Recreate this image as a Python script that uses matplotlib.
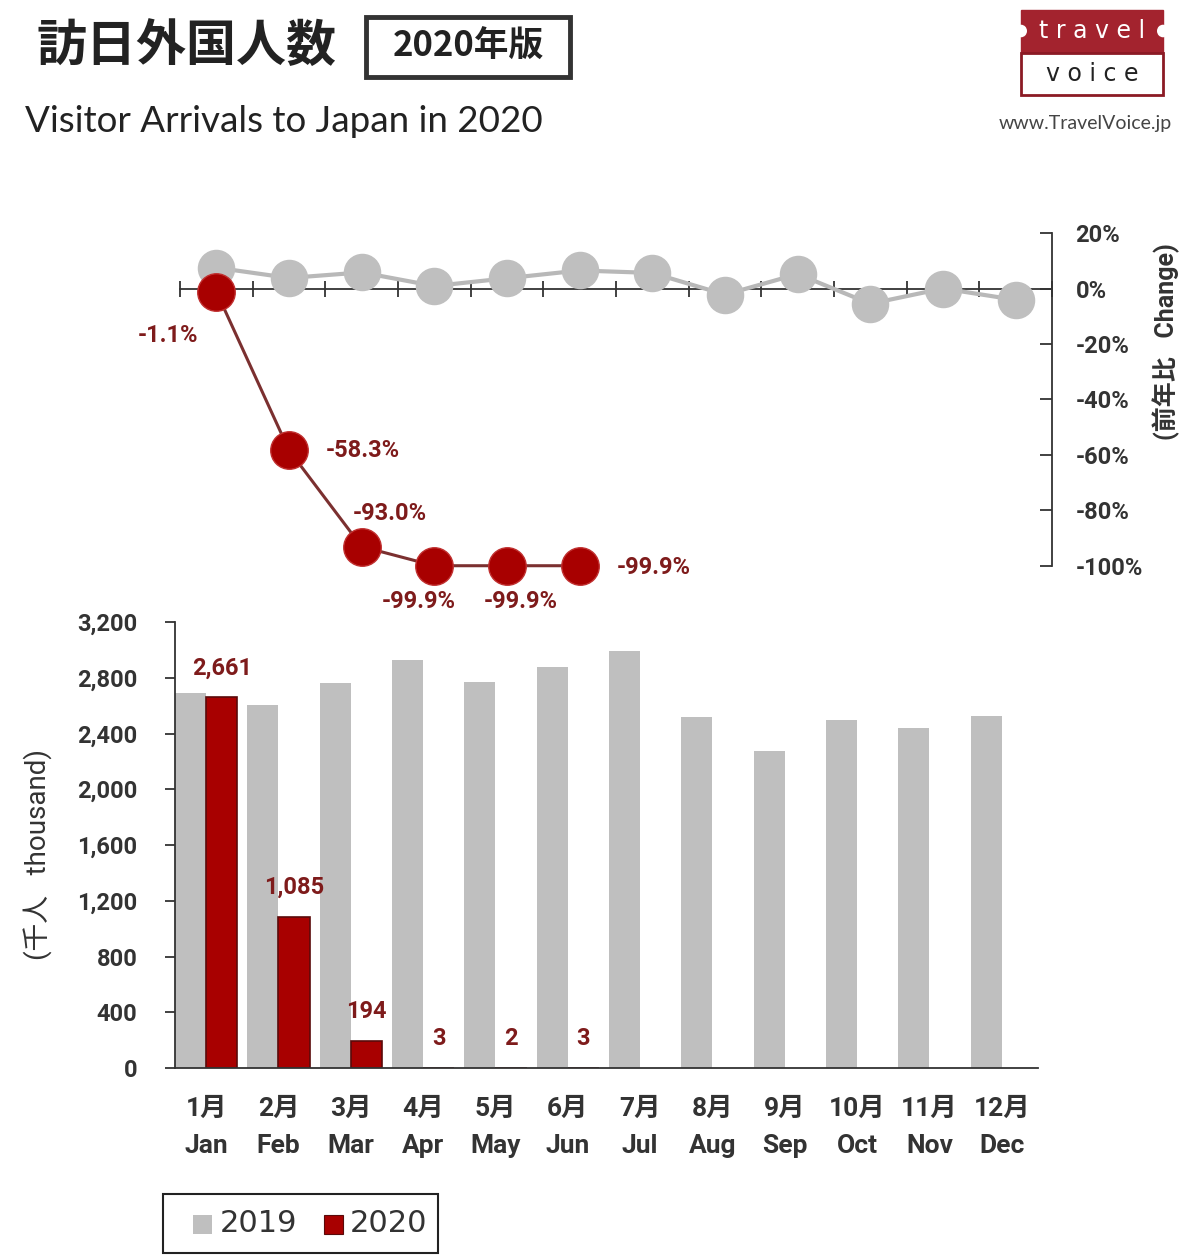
"""Visitor arrivals to Japan 2020: monthly bars with YoY change line above."""

import matplotlib
matplotlib.use("Agg")
import matplotlib.pyplot as plt
import numpy as np
from matplotlib.patches import Rectangle, Circle

plt.rcParams["font.family"] = ["Roboto", "Noto Sans CJK JP", "DejaVu Sans"]

months_jp = ["1月", "2月", "3月", "4月", "5月", "6月", "7月", "8月", "9月", "10月", "11月", "12月"]
months_en = ["Jan", "Feb", "Mar", "Apr", "May", "Jun", "Jul", "Aug", "Sep", "Oct", "Nov", "Dec"]

# thousand visitors
arrivals_2019 = [2689, 2604, 2760, 2927, 2773, 2880, 2991, 2520, 2273, 2497, 2441, 2527]
arrivals_2020 = [2661, 1085, 194, 3, 2, 3]
labels_2020 = ["2,661", "1,085", "194", "3", "2", "3"]

# year-on-year change, %
change_2019 = [7.5, 3.8, 5.8, 0.9, 3.7, 6.5, 5.6, -2.2, 5.2, -5.5, 0.0, -4.1]
change_2020 = [-1.1, -58.3, -93.0, -99.9, -99.9, -99.9]
change_labels = ["-1.1%", "-58.3%", "-93.0%", "-99.9%", "-99.9%", "-99.9%"]
# label offsets in pixels (dx, dy) from each red point
change_offsets = [(-48, -44), (74, 0), (28, 33), (-16, -36), (14, -36), (74, -2)]

GRAY = "#BFBFBF"
RED = "#A80000"
DARK_RED = "#7E1B1B"
AXIS = "#333333"
TXT = "#333333"

W, H = 1200, 1258
fig = plt.figure(figsize=(W / 100, H / 100), dpi=100)


def fx(px):
    return px / W


def fy(py):
    return 1 - py / H


# ---- header ----
fig.text(fx(37), fy(46), "訪日外国人数", fontsize=36, fontweight="bold",
         family=["Noto Sans CJK JP"], color="#222222", va="center", ha="left")
fig.patches.append(Rectangle((fx(366), fy(77)), fx(570 - 366), (77 - 17) / H,
                             transform=fig.transFigure, fill=False,
                             edgecolor="#333333", linewidth=3.5))
fig.text(fx(468), fy(46), "2020年版", fontsize=25, fontweight="bold",
         family=["Noto Sans CJK JP"], color="#222222", va="center", ha="center")
fig.text(fx(25), fy(121), "Visitor Arrivals to Japan in 2020", fontsize=26.5,
         color="#222222", va="center", ha="left", family=["Lato", "DejaVu Sans"])

# logo
fig.patches.append(Rectangle((fx(1021), fy(53)), fx(1163 - 1021), (53 - 10) / H,
                             transform=fig.transFigure, facecolor="#A3232E",
                             edgecolor="#A3232E", linewidth=1))
fig.patches.append(Rectangle((fx(1021), fy(95)), fx(1163 - 1021), (95 - 53) / H,
                             transform=fig.transFigure, facecolor="white",
                             edgecolor="#8B1A24", linewidth=2))
for cx in (1021, 1163):
    fig.patches.append(Circle((fx(cx), fy(31)), 6 / W, transform=fig.transFigure,
                              facecolor="white", edgecolor="none"))
fig.text(fx(1092), fy(31), "t r a v e l", fontsize=17, color="white",
         va="center", ha="center", family=["DejaVu Sans"])
fig.text(fx(1092), fy(74), "v o i c e", fontsize=17, color="#222222",
         va="center", ha="center", family=["DejaVu Sans"])
fig.text(fx(1085), fy(123), "www.TravelVoice.jp", fontsize=14, color="#444444",
         va="center", ha="center", family=["Lato", "DejaVu Sans"])

# ---- change line chart ----
ax1 = fig.add_axes([fx(180), fy(566), fx(1052 - 180), (566 - 233) / H])
x = np.arange(12)
ax1.plot(x, change_2019, color="#B8B8B8", linewidth=3, marker="o",
         markersize=26, markerfacecolor=GRAY, markeredgecolor=GRAY,
         clip_on=False, zorder=3)
x20 = np.arange(len(change_2020))
ax1.plot(x20, change_2020, color="#7B3030", linewidth=2.2, marker="o",
         markersize=27, markerfacecolor=RED, markeredgecolor="#C03030",
         markeredgewidth=1, clip_on=False, zorder=4)
for xi, yi, lab, (dx, dy) in zip(x20, change_2020, change_labels, change_offsets):
    ax1.annotate(lab, (xi, yi), xytext=(dx, dy), textcoords="offset pixels",
                 ha="center", va="center", fontsize=17, fontweight="bold",
                 color=DARK_RED, annotation_clip=False)

ax1.set_xlim(-0.5, 11.5)
ax1.set_ylim(-100, 20)
ax1.set_facecolor("none")
for side in ("left", "top"):
    ax1.spines[side].set_visible(False)
ax1.spines["bottom"].set_position(("data", 0))
ax1.spines["bottom"].set_color(AXIS)
ax1.spines["right"].set_color(AXIS)
ax1.spines["bottom"].set_linewidth(1.3)
ax1.spines["right"].set_linewidth(1.3)
ax1.set_xticks(np.arange(-0.5, 12, 1))
ax1.tick_params(axis="x", direction="inout", length=11, width=1.3,
                color=AXIS, labelbottom=False)
ax1.yaxis.tick_right()
ax1.set_yticks(np.arange(-100, 21, 20))
ax1.set_yticklabels([f"{v}%" for v in np.arange(-100, 21, 20)])
ax1.tick_params(axis="y", direction="in", length=9, width=1.3, color=AXIS,
                pad=17, labelsize=17, labelcolor=TXT)
for t in ax1.get_yticklabels():
    t.set_fontweight("bold")
fig.text(fx(1166), fy(342), "(前年比   Change)", rotation=90, fontsize=18,
         fontweight="bold", color=TXT, va="center", ha="center")

# ---- arrivals bar chart ----
ax2 = fig.add_axes([fx(175), fy(1068), fx(1038 - 175), (1068 - 622) / H])
w = 0.43
ax2.bar(x - w / 2, arrivals_2019, w, color=GRAY, edgecolor="none")
ax2.bar(x20 + w / 2, arrivals_2020, w, color=RED, edgecolor="#5A0A0A",
        linewidth=1.2)
for xi, v, lab in zip(x20, arrivals_2020, labels_2020):
    ax2.annotate(lab, (xi + w / 2, v), xytext=(0, 29), textcoords="offset pixels",
                 ha="center", va="center", fontsize=17, fontweight="bold",
                 color=DARK_RED)

ax2.set_xlim(-0.43, 11.5)
ax2.set_ylim(0, 3200)
for side in ("right", "top"):
    ax2.spines[side].set_visible(False)
for side in ("left", "bottom"):
    ax2.spines[side].set_color(AXIS)
    ax2.spines[side].set_linewidth(1.3)
ax2.set_yticks(np.arange(0, 3201, 400))
ax2.set_yticklabels([f"{v:,}" for v in np.arange(0, 3201, 400)])
ax2.tick_params(axis="y", direction="out", length=7, width=1.3, color=AXIS,
                pad=20, labelsize=17, labelcolor=TXT)
for t in ax2.get_yticklabels():
    t.set_fontweight("bold")
ax2.set_xticks(x)
ax2.set_xticklabels([f"{j}\n{e}" for j, e in zip(months_jp, months_en)],
                    linespacing=1.7)
ax2.tick_params(axis="x", length=0, pad=21, labelsize=19, labelcolor=TXT)
for t in ax2.get_xticklabels():
    t.set_fontweight("bold")
fig.text(fx(38), fy(855), "(千人   thousand)", rotation=90, fontsize=20,
         color=TXT, va="center", ha="center")

# ---- legend ----
fig.patches.append(Rectangle((fx(163), fy(1253)), fx(438 - 163), (1253 - 1194) / H,
                             transform=fig.transFigure, fill=False,
                             edgecolor="#222222", linewidth=1.5))
fig.patches.append(Rectangle((fx(193), fy(1234)), fx(19), 19 / H,
                             transform=fig.transFigure, facecolor=GRAY,
                             edgecolor="none"))
fig.patches.append(Rectangle((fx(324), fy(1234)), fx(19), 19 / H,
                             transform=fig.transFigure, facecolor=RED,
                             edgecolor="#5A0A0A", linewidth=0.8))
for px, lab in ((220, "2019"), (350, "2020")):
    fig.text(fx(px), fy(1223), lab, fontsize=22, color="#333333", va="center",
             ha="left", family=["Liberation Sans Narrow", "DejaVu Sans"])

fig.savefig("out.png", dpi=100)
